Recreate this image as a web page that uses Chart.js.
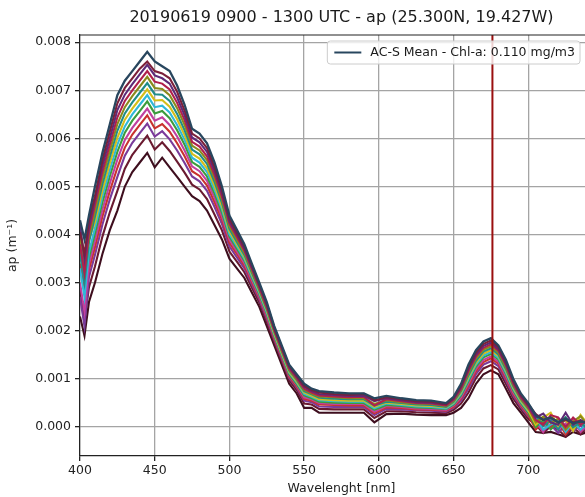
<!DOCTYPE html>
<html><head><meta charset="utf-8">
<script src="https://cdn.jsdelivr.net/npm/chart.js@4.4.1/dist/chart.umd.min.js"></script>
<style>
html,body{margin:0;padding:0;background:#fff;overflow:hidden;width:585px;height:497px}
#wrap{position:relative;width:640px;height:497px}
</style>
</head><body><div id="wrap"><canvas id="c" width="640" height="497"></canvas></div>
<script>
const chartTitle = '20190619 0900 - 1300 UTC - ap (25.300N, 19.427W)';
const meanLabel = 'AC-S Mean - Chl-a: 0.110 mg/m3';
const xLabel = 'Wavelenght [nm]';
const yLabel = 'ap (m\u207B\u00B9)';
const markerWavelength = 676;
const xTicks = [400,450,500,550,600,650,700];
const yTicks = [0,0.001,0.002,0.003,0.004,0.005,0.006,0.007,0.008];

const wavelength = [400,403,406,410,415,420,425,430,435,440,
445,450,455,460,465,470,475,480,485,490,
495,500,505,510,515,520,525,530,535,540,
545,550,555,560,570,580,590,597,605,615,
625,635,645,650,655,660,665,670,675,680,
685,690,695,700,705,710,715,720,725,730,
735,740];

const apMean = [0.0043,0.0039,0.0044,0.0050,0.0057,0.0063,0.0069,0.0072,0.0074,0.0076,
0.0078,0.0076,0.0075,0.0074,0.0071,0.0067,0.0062,0.0061,0.0059,0.0055,
0.0050,0.0044,0.0041,0.0038,0.0034,0.0030,0.0026,0.0021,0.0017,0.0013,
0.0011,0.0009,0.0008,0.00075,0.00072,0.0007,0.0007,0.0006,0.00065,0.0006,
0.00056,0.00055,0.0005,0.00063,0.0009,0.0013,0.0016,0.00178,0.00185,0.0017,
0.0014,0.0010,0.0007,0.0005,0.00025,0.00015,0.0002,0.0001,0.00018,0.00008,
0.00012,0.00008];

const ap01 = [0.00405,0.0036,0.0043,0.0048,0.00555,0.00615,0.00673,0.00705,0.00725,0.00745,
0.0076,0.0074,0.00735,0.00725,0.00697,0.00658,0.0061,0.006,0.0058,0.00541,
0.00492,0.00434,0.00404,0.00375,0.00336,0.00296,0.00256,0.00207,0.00167,0.00127,
0.00107,0.00086,0.00077,0.00072,0.00069,0.00067,0.00069,0.00056,0.00062,0.00058,
0.00054,0.00053,0.00048,0.00061,0.00086,0.00125,0.00155,0.00173,0.0018,0.00166,
0.00136,0.00096,0.00067,0.00047,0.00027,0.00015,0.0002,0.0001,0.00015,0.0001,
0.00012,0.00008];

const ap02 = [0.0042,0.0035,0.00417,0.00474,0.00543,0.00601,0.00659,0.00691,0.00713,0.00733,
0.00753,0.00731,0.00725,0.00714,0.00685,0.00648,0.00602,0.00592,0.00572,0.00533,
0.00486,0.00428,0.004,0.00371,0.00332,0.00294,0.00254,0.00205,0.00165,0.00125,
0.00105,0.00084,0.00075,0.00069,0.00067,0.00065,0.00065,0.00054,0.0006,0.00056,
0.00052,0.00051,0.00047,0.00059,0.00084,0.00121,0.00151,0.00169,0.00176,0.00162,
0.00132,0.00094,0.00065,0.00045,0.0002,0.00028,0.0001,0.00005,0.0003,0.00005,
0.00015,0.00005];

const ap03 = [0.0038,0.0032,0.00406,0.00462,0.0053,0.00588,0.00644,0.00678,0.007,0.0072,
0.0074,0.00718,0.00714,0.00702,0.00674,0.00638,0.00593,0.00583,0.00563,0.00525,
0.00479,0.00423,0.00395,0.00367,0.00329,0.0029,0.0025,0.00202,0.00162,0.00122,
0.00102,0.0008,0.00072,0.00066,0.00064,0.00062,0.00063,0.00045,0.00058,0.00054,
0.0005,0.00049,0.00045,0.00057,0.0008,0.00117,0.00147,0.00165,0.00172,0.00159,
0.00129,0.0009,0.00062,0.00042,0.00015,0.00005,0.00025,0.0002,0,0.0002,
0.00005,0.00015];

const ap04 = [0.004,0.0033,0.00395,0.0045,0.00518,0.00575,0.0063,0.00665,0.00688,0.00708,
0.00728,0.00705,0.00703,0.0069,0.00663,0.00628,0.00585,0.00575,0.00555,0.00518,
0.00473,0.00418,0.0039,0.00363,0.00325,0.00288,0.00248,0.002,0.0016,0.0012,
0.001,0.00078,0.0007,0.00064,0.00062,0.0006,0.0006,0.00048,0.00056,0.00052,
0.00049,0.00048,0.00044,0.00055,0.00078,0.00113,0.00143,0.00161,0.00168,0.00155,
0.00125,0.00088,0.0006,0.0004,0.0001,0.00022,0.00008,0.00018,-0.00005,0.00012,
0.00023,0.00003];

const ap05 = [0.0036,0.003,0.00384,0.00438,0.00505,0.00562,0.00616,0.00652,0.00675,0.00695,
0.00715,0.00692,0.00691,0.00678,0.00651,0.00617,0.00577,0.00567,0.00547,0.0051,
0.00466,0.00412,0.00385,0.00358,0.00321,0.00285,0.00245,0.00198,0.00158,0.00118,
0.00098,0.00075,0.00068,0.00061,0.00059,0.00058,0.00058,0.00045,0.00053,0.0005,
0.00047,0.00046,0.00042,0.00053,0.00075,0.00108,0.00138,0.00157,0.00164,0.00151,
0.00121,0.00085,0.00058,0.00038,0.00025,0.00002,0.00015,-0.00005,0.0002,0,
0.0001,-0.00005];

const ap06 = [0.0039,0.0034,0.0039,0.00426,0.00492,0.00549,0.00601,0.00639,0.00662,0.00682,
0.00702,0.00679,0.0068,0.00666,0.0064,0.00607,0.00568,0.00558,0.00538,0.00502,
0.00459,0.00407,0.0038,0.00354,0.00318,0.00282,0.00242,0.00195,0.00155,0.00115,
0.00095,0.00072,0.00065,0.00058,0.00056,0.00055,0.00055,0.00042,0.00051,0.00048,
0.00045,0.00044,0.00041,0.00051,0.00072,0.00104,0.00134,0.00153,0.0016,0.00148,
0.00118,0.00082,0.00055,0.00035,0.00005,0.0002,0.0003,0.00002,0.00015,-0.00008,
0.00025,0.00005];

const ap07 = [0.0033,0.0027,0.00363,0.00414,0.0048,0.00535,0.00587,0.00625,0.0065,0.0067,
0.0069,0.00665,0.00668,0.00654,0.00628,0.00597,0.0056,0.0055,0.0053,0.00494,
0.00453,0.00401,0.00376,0.0035,0.00314,0.00279,0.00239,0.00193,0.00153,0.00113,
0.00093,0.00069,0.00063,0.00056,0.00054,0.00053,0.00053,0.00039,0.00049,0.00046,
0.00043,0.00042,0.00039,0.00049,0.00069,0.001,0.0013,0.00149,0.00156,0.00144,
0.00114,0.00079,0.00053,0.00033,0.0002,-0.00005,0.00005,0.00015,-0.0001,0.0001,
-0.00005,0.0001];

const ap08 = [0.0037,0.0031,0.00352,0.00402,0.00467,0.00522,0.00572,0.00612,0.00637,0.00657,
0.00677,0.00652,0.00657,0.00642,0.00617,0.00587,0.00551,0.00541,0.00521,0.00486,
0.00446,0.00396,0.00371,0.00346,0.00311,0.00276,0.00236,0.0019,0.0015,0.0011,
0.0009,0.00066,0.0006,0.00053,0.00051,0.0005,0.0005,0.00036,0.00046,0.00044,
0.00041,0.0004,0.00038,0.00047,0.00066,0.00096,0.00126,0.00145,0.00152,0.00141,
0.00111,0.00076,0.0005,0.0003,0,0.00015,-0.00005,0.0001,0.0002,-0.00005,
0.00008,-0.00002];

const ap09 = [0.003,0.0024,0.00339,0.00388,0.00452,0.00507,0.00556,0.00597,0.00622,0.00642,
0.00662,0.00637,0.00644,0.00628,0.00604,0.00575,0.00542,0.00532,0.00512,0.00477,
0.00438,0.0039,0.00365,0.00341,0.00306,0.00272,0.00232,0.00188,0.00148,0.00108,
0.00088,0.00062,0.00058,0.0005,0.00048,0.00048,0.00048,0.00032,0.00044,0.00042,
0.00039,0.00038,0.00036,0.00045,0.00062,0.00091,0.00121,0.0014,0.00147,0.00136,
0.00106,0.00072,0.00048,0.00028,0.00012,-0.0001,0.00018,-0.00005,0.00008,0.00015,
-0.0001,0.00008];

const ap10 = [0.0034,0.0028,0.00327,0.00374,0.00438,0.00491,0.00539,0.00581,0.00608,0.00628,
0.00648,0.00621,0.0063,0.00614,0.0059,0.00563,0.00532,0.00522,0.00502,0.00468,
0.00431,0.00383,0.0036,0.00336,0.00302,0.00269,0.00229,0.00185,0.00145,0.00105,
0.00085,0.00059,0.00055,0.00047,0.00046,0.00045,0.00045,0.00029,0.00041,0.0004,
0.00037,0.00036,0.00034,0.00042,0.00059,0.00086,0.00116,0.00135,0.00143,0.00132,
0.00102,0.00069,0.00045,0.00025,-0.00005,0.0001,0,0.00012,-0.00015,0.00005,
0.00012,-0.00008];

const ap11 = [0.0027,0.0021,0.00312,0.00358,0.00421,0.00474,0.0052,0.00564,0.00591,0.00611,
0.00631,0.00604,0.00615,0.00598,0.00575,0.00549,0.00521,0.00511,0.00491,0.00458,
0.00422,0.00376,0.00353,0.0033,0.00297,0.00265,0.00225,0.00182,0.00142,0.00102,
0.00082,0.00055,0.00052,0.00043,0.00042,0.00042,0.00042,0.00025,0.00038,0.00037,
0.00035,0.00034,0.00032,0.0004,0.00055,0.0008,0.0011,0.0013,0.00137,0.00127,
0.00097,0.00065,0.00042,0.00022,0.00008,-0.00008,0.00005,-0.00012,0.00005,-0.00008,
0.00003,-0.0001];

const ap12 = [0.0029,0.0022,0.00291,0.00334,0.00396,0.00447,0.00491,0.00537,0.00566,0.00586,
0.00606,0.00577,0.00592,0.00574,0.00552,0.00529,0.00504,0.00494,0.00474,0.00442,
0.00409,0.00365,0.00344,0.00322,0.0029,0.00259,0.00219,0.00177,0.00137,0.00097,
0.00077,0.00049,0.00047,0.00038,0.00037,0.00037,0.00037,0.00019,0.00033,0.00033,
0.00031,0.0003,0.00029,0.00036,0.00049,0.00072,0.00102,0.00122,0.00129,0.0012,
0.0009,0.00059,0.00037,0.00017,0.00005,-0.00012,0.00002,-0.00005,-0.0002,0,
-0.00015,0];

const ap13 = [0.0023,0.0019,0.0026,0.003,0.0036,0.0041,0.0045,0.005,0.0053,0.0055,
0.0057,0.0054,0.0056,0.0054,0.0052,0.005,0.0048,0.0047,0.0045,0.0042,
0.0039,0.0035,0.0033,0.0031,0.0028,0.0025,0.0021,0.0017,0.0013,0.0009,
0.0007,0.0004,0.0004,0.0003,0.0003,0.0003,0.0003,0.0001,0.00027,0.00028,
0.00026,0.00025,0.00025,0.0003,0.0004,0.0006,0.0009,0.0011,0.00118,0.0011,
0.0008,0.0005,0.0003,0.0001,-0.0001,-0.00012,-0.0001,-0.00015,-0.0002,-0.0001,
-0.00015,-0.0001];

const seriesList = [apMean, ap01, ap02, ap03, ap04, ap05, ap06, ap07, ap08, ap09, ap10, ap11, ap12, ap13];
const seriesColors = ['#28465e','#7b1f3a','#5e2a78','#b0204c','#8a8a1c','#1f8c88','#d4be1a',
                      '#2fb8d8','#3c9c3c','#c040a0','#c8322e','#7a3a9a','#6a1a30','#3e0e1e'];

const FONT = 'DejaVu Sans';

const datasets = seriesList.map((s, i) => ({
  label: i === 0 ? meanLabel : 'spectrum ' + i,
  data: s.map((v, j) => ({x: wavelength[j], y: v})),
  borderColor: seriesColors[i],
  borderWidth: i === 0 ? 2.3 : 2.1,
  pointRadius: 0,
  tension: 0,
  fill: false
}));

const framePlugin = {
  id: 'frame',
  afterDatasetsDraw(chart) {
    const {ctx, chartArea: a, scales: {x}} = chart;
    ctx.save();
    const px = x.getPixelForValue(markerWavelength);
    ctx.strokeStyle = '#9a0f0f';
    ctx.lineWidth = 2;
    ctx.beginPath(); ctx.moveTo(px, a.top); ctx.lineTo(px, a.bottom); ctx.stroke();
    ctx.strokeStyle = '#222';
    ctx.lineWidth = 1.2;
    ctx.beginPath(); ctx.moveTo(a.left, a.top); ctx.lineTo(a.right, a.top); ctx.lineTo(a.right, a.bottom); ctx.stroke();
    const text = chart.data.datasets[0].label;
    ctx.font = '12.5px "' + FONT + '"';
    const tw = ctx.measureText(text).width;
    const boxRight = a.right - 23;
    const textX = boxRight - 5 - tw;
    const lineEnd = textX - 9;
    const lineStart = lineEnd - 27;
    const boxLeft = lineStart - 7;
    const boxTop = a.top + 6;
    const boxH = 23;
    ctx.beginPath();
    ctx.roundRect(boxLeft, boxTop, boxRight - boxLeft, boxH, 3);
    ctx.fillStyle = 'rgba(255,255,255,0.8)';
    ctx.fill();
    ctx.strokeStyle = '#cccccc';
    ctx.lineWidth = 1;
    ctx.stroke();
    const cy = boxTop + boxH / 2;
    ctx.strokeStyle = chart.data.datasets[0].borderColor;
    ctx.lineWidth = 2;
    ctx.beginPath(); ctx.moveTo(lineStart, cy); ctx.lineTo(lineEnd, cy); ctx.stroke();
    ctx.fillStyle = '#1a1a1a';
    ctx.textBaseline = 'middle';
    ctx.textAlign = 'left';
    ctx.fillText(text, textX, cy + 0.5);
    ctx.restore();
  }
};

new Chart(document.getElementById('c').getContext('2d'), {
  type: 'line',
  data: {datasets},
  options: {
    responsive: false,
    animation: false,
    devicePixelRatio: 1,
    layout: {padding: {left: 0, right: 37, top: 0, bottom: 0}},
    plugins: {
      legend: {display: false},
      tooltip: {enabled: false},
      title: {
        display: true, fullSize: false, text: chartTitle, color: '#1a1a1a',
        font: {family: FONT, size: 16, weight: 'normal'},
        padding: {top: 8, bottom: 7.8}
      }
    },
    scales: {
      x: {
        type: 'linear', min: 400, max: 750,
        afterBuildTicks: s => { s.ticks = xTicks.map(v => ({value: v})); },
        afterFit: s => { s.height = 41; },
        grid: {color: '#a4a4a4', lineWidth: 1.3, tickColor: '#222', tickLength: 5},
        border: {color: '#222', width: 1.2},
        ticks: {color: '#222', font: {family: FONT, size: 12.5}, padding: 2, maxRotation: 0, autoSkip: false,
                callback: v => String(v)},
        title: {display: true, text: xLabel, color: '#222', font: {family: FONT, size: 12.5},
                padding: {top: 0, bottom: 1}}
      },
      y: {
        type: 'linear', min: -0.0006, max: 0.00815,
        afterBuildTicks: s => { s.ticks = yTicks.map(v => ({value: v})); },
        afterFit: s => { s.width = 80; },
        grid: {color: '#a4a4a4', lineWidth: 1.3, tickColor: '#222', tickLength: 5},
        border: {color: '#222', width: 1.2},
        ticks: {color: '#222', font: {family: FONT, size: 12.5}, padding: 4, autoSkip: false,
                callback: v => Number(v).toFixed(3)},
        title: {display: true, text: yLabel, color: '#222', font: {family: FONT, size: 12.5},
                padding: {top: 5, bottom: 0}}
      }
    }
  },
  plugins: [framePlugin]
});
</script>
</body></html>
